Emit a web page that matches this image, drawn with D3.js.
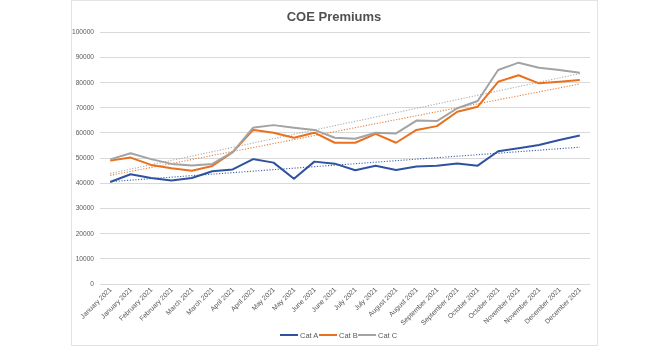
<!DOCTYPE html>
<html>
<head>
<meta charset="utf-8">
<script src="https://cdn.jsdelivr.net/npm/d3@7"></script>
<style>
  body { margin: 0; background: #fff; }
  svg { display: block; font-family: "Liberation Sans", Arial, sans-serif; will-change: transform; }
</style>
</head>
<body>
<div class="chart"></div>
<script>
// monthly labels, two readings per month
var months = ["January 2021", "January 2021", "February 2021", "February 2021",
  "March 2021", "March 2021", "April 2021", "April 2021", "May 2021", "May 2021",
  "June 2021", "June 2021", "July 2021", "July 2021", "August 2021", "August 2021",
  "September 2021", "September 2021", "October 2021", "October 2021",
  "November 2021", "November 2021", "December 2021", "December 2021"];

var catA = [40300, 43400, 41900, 40900, 41900, 44600, 45300, 49400, 48000, 41600, 48400, 47600,
  45000, 46800, 45100, 46500, 46800, 47700, 46800, 52500, 53700, 55000, 57000, 58800];
var catB = [48800, 50000, 47100, 45800, 44800, 46700, 52200, 61000, 59900, 57900, 59900, 55900,
  55900, 59400, 55900, 61000, 62500, 68200, 70200, 80100, 82700, 79500, 80100, 80800];
var catC = [49300, 51700, 49400, 47500, 46900, 47500, 52200, 61900, 62900, 61900, 61000, 57900,
  57500, 59900, 59600, 64700, 64500, 69600, 72500, 84800, 87700, 85700, 84800, 83700];

var seriesNames = ["Cat A", "Cat B", "Cat C"];
var seriesColors = ["#2f52a0", "#e8711f", "#a3a3a3"];
var yTicks = [0, 10000, 20000, 30000, 40000, 50000, 60000, 70000, 80000, 90000, 100000];

var W = 668, H = 348;
var svg = d3.select(".chart").append("svg").attr("width", W).attr("height", H);

// chart frame
svg.append("rect")
  .attr("x", 71.5).attr("y", 0.5).attr("width", 526).attr("height", 345)
  .attr("fill", "#fff").attr("stroke", "#e3e3e3");

svg.append("text")
  .attr("x", 334).attr("y", 21)
  .attr("text-anchor", "middle")
  .attr("font-size", 13).attr("font-weight", "bold")
  .attr("fill", "#505050")
  .text("COE Premiums");

var x = d3.scaleBand().domain(d3.range(months.length)).range([100, 590]);
var y = d3.scaleLinear().domain([0, 100000]).range([283.5, 31.7]);

// gridlines + y labels
svg.append("g").selectAll("line").data(yTicks).enter().append("line")
  .attr("x1", 100).attr("x2", 590)
  .attr("y1", function(d) { return Math.round(y(d)) + 0.5; })
  .attr("y2", function(d) { return Math.round(y(d)) + 0.5; })
  .attr("stroke", "#d9d9d9");

svg.append("g").selectAll("text").data(yTicks).enter().append("text")
  .attr("x", 94)
  .attr("y", function(d) { return y(d) + 2.5; })
  .attr("text-anchor", "end")
  .attr("font-size", 6.6).attr("fill", "#595959")
  .text(function(d) { return d; });

// rotated month labels
svg.append("g").selectAll("text").data(months).enter().append("text")
  .attr("transform", function(d, i) {
    return "translate(" + (x(i) + x.bandwidth() / 2 + 2) + ",290) rotate(-45)";
  })
  .attr("text-anchor", "end")
  .attr("font-size", 6.8).attr("fill", "#595959")
  .text(function(d) { return d; });

var cx = function(d, i) { return x(i) + x.bandwidth() / 2; };
var line = d3.line().x(function(d) { return d[0]; }).y(function(d) { return y(d[1]); });

[catA, catB, catC].forEach(function(vals, s) {
  // linear trendline over the index
  var n = vals.length;
  var mx = d3.mean(d3.range(n)), my = d3.mean(vals);
  var sxy = d3.sum(vals, function(v, i) { return (i - mx) * (v - my); });
  var sxx = d3.sum(d3.range(n), function(i) { return (i - mx) * (i - mx); });
  var b = sxy / sxx, a = my - b * mx;
  svg.append("path")
    .attr("d", line([[cx(null, 0), a], [cx(null, n - 1), a + b * (n - 1)]]))
    .attr("fill", "none")
    .attr("stroke", seriesColors[s])
    .attr("stroke-width", 1.1)
    .attr("stroke-dasharray", "1.2,1.6")
    .attr("opacity", 0.9);
});

[catA, catB, catC].forEach(function(vals, s) {
  svg.append("path")
    .attr("d", line(vals.map(function(v, i) { return [cx(v, i), v]; })))
    .attr("fill", "none")
    .attr("stroke", seriesColors[s])
    .attr("stroke-width", 2)
    .attr("stroke-linejoin", "round");
});

// legend
var legend = svg.append("g").selectAll("g").data(seriesNames).enter().append("g")
  .attr("transform", function(d, i) { return "translate(" + (280 + i * 39) + ",335)"; });
legend.append("line")
  .attr("x1", 0).attr("x2", 18).attr("y1", 0).attr("y2", 0)
  .attr("stroke", function(d, i) { return seriesColors[i]; })
  .attr("stroke-width", 2);
legend.append("text")
  .attr("x", 20).attr("y", 2.5)
  .attr("font-size", 7.5).attr("fill", "#595959")
  .text(function(d) { return d; });
</script>
</body>
</html>
